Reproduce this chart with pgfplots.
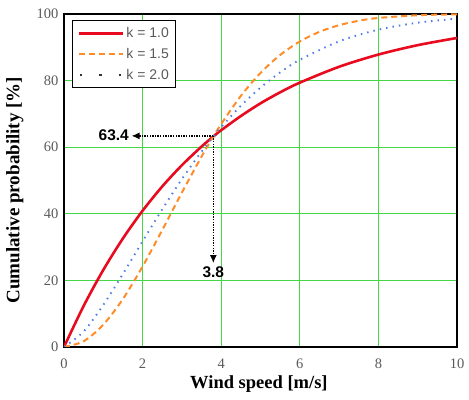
\documentclass[border=0pt]{standalone}
\usepackage{pgfplots}
\pgfplotsset{compat=1.18}
\usepackage{fontspec}
\setmainfont{Liberation Serif}
\newfontfamily\arial{Liberation Sans}
\usetikzlibrary{arrows.meta}

\definecolor{wred}{RGB}{232,10,30}
\definecolor{worange}{RGB}{255,140,40}
\definecolor{wblue}{RGB}{80,125,230}
\definecolor{wgrid}{RGB}{70,215,70}
\definecolor{wtick}{RGB}{90,90,90}

% Weibull CDF, scale c = 3.8 m/s, values in %
\pgfplotstableread{
x F
0 0
0.5 12.33
1 23.14
1.5 32.61
2 40.92
2.5 48.21
3 54.59
3.5 60.19
3.8 63.21
4 65.10
4.5 69.35
5 73.17
5.5 76.48
6 79.38
7 84.15
8 87.82
9 90.64
10 92.80
}\kone
\pgfplotstableread{
x F
0 0
0.5 4.66
1 12.63
1.5 21.96
2 31.74
2.5 41.35
3 50.42
3.5 58.69
3.8 63.21
4 66.04
4.5 72.44
5 77.89
5.5 82.47
6 86.25
7 91.79
8 95.29
9 97.39
10 98.60
}\konefive
\pgfplotstableread{
x F
0 0
0.5 1.72
1 6.69
1.5 14.43
2 24.19
2.5 35.13
3 46.38
3.5 57.19
3.8 63.21
4 66.98
4.5 75.40
5 82.30
5.5 87.69
6 91.74
6.5 94.64
7 96.64
7.5 97.97
8 98.81
9 99.63
10 99.90
}\ktwo

\begin{document}
\begin{tikzpicture}
\begin{axis}[
  scale only axis,
  width=393pt, height=333pt,
  xmin=0, xmax=10, ymin=0, ymax=100,
  xtick={0,2,...,10}, ytick={0,20,...,100},
  major tick length=0pt,
  grid=major,
  major grid style={wgrid, line width=0.8pt},
  axis line style={black, line width=1.6pt},
  /pgf/number format/assume math mode=true,
  tick label style={font=\fontsize{14.5}{14.5}\selectfont, text=wtick},
  xticklabel style={yshift=-8pt},
  yticklabel style={xshift=-2pt},
  xlabel={\textbf{Wind speed [m/s]}},
  ylabel={\textbf{Cumulative probability [\%]}},
  x label style={font=\fontsize{18.5}{18.5}\selectfont, at={(axis description cs:0.496,0)}, anchor=center, yshift=-37pt},
  y label style={font=\fontsize{19}{19}\selectfont, at={(axis description cs:-0.125,0.471)}, anchor=center},
  legend style={at={(axis description cs:0.021,0.982)}, anchor=north west,
    draw=black, line width=1.2pt, font=\arial\fontsize{14}{14}\selectfont,
    text=wtick, row sep=5pt, inner xsep=5pt, inner ysep=5pt},
  legend cell align=left,
  legend image code/.code={\draw[#1] (0pt,0pt) -- (44pt,0pt);},
]
\addplot[wred, line width=2.6pt, smooth] table {\kone};
\addlegendentry{k = 1.0}
\addplot[worange, line width=2pt, dash pattern=on 6pt off 4pt, smooth] table {\ktwo};
\addlegendentry{k = 1.5}
\addplot[wblue, line width=1.9pt, dash pattern=on 1.5pt off 5pt, smooth,
  legend image code/.code={\draw[black!80, line width=2.2pt, dash pattern=on 2.2pt off 17pt] (1pt,0pt) -- (44pt,0pt);}] table {\konefive};
\addlegendentry{k = 2.0}

\draw[black, line width=1.3pt, dash pattern=on 1.3pt off 1.3pt, -{Latex[length=8pt,width=7pt]}]
  (axis cs:3.8,63.4) -- (axis cs:1.72,63.4);
\draw[black, line width=1.3pt, dash pattern=on 1.3pt off 1.3pt, -{Latex[length=8pt,width=7pt]}]
  (axis cs:3.8,63.4) -- (axis cs:3.8,25.2);
\node[anchor=east, inner sep=1pt, font=\arial\bfseries\fontsize{15.5}{15.5}\selectfont]
  at (axis cs:1.68,63.6) {63.4};
\node[anchor=north, inner sep=1pt, font=\arial\bfseries\fontsize{15.5}{15.5}\selectfont]
  at (axis cs:3.8,24.6) {3.8};
\end{axis}
\pgfresetboundingbox
\path ([shift={(-64pt,-53pt)}]current axis.south west) rectangle ([shift={(12pt,14pt)}]current axis.north east);
\end{tikzpicture}
\end{document}
